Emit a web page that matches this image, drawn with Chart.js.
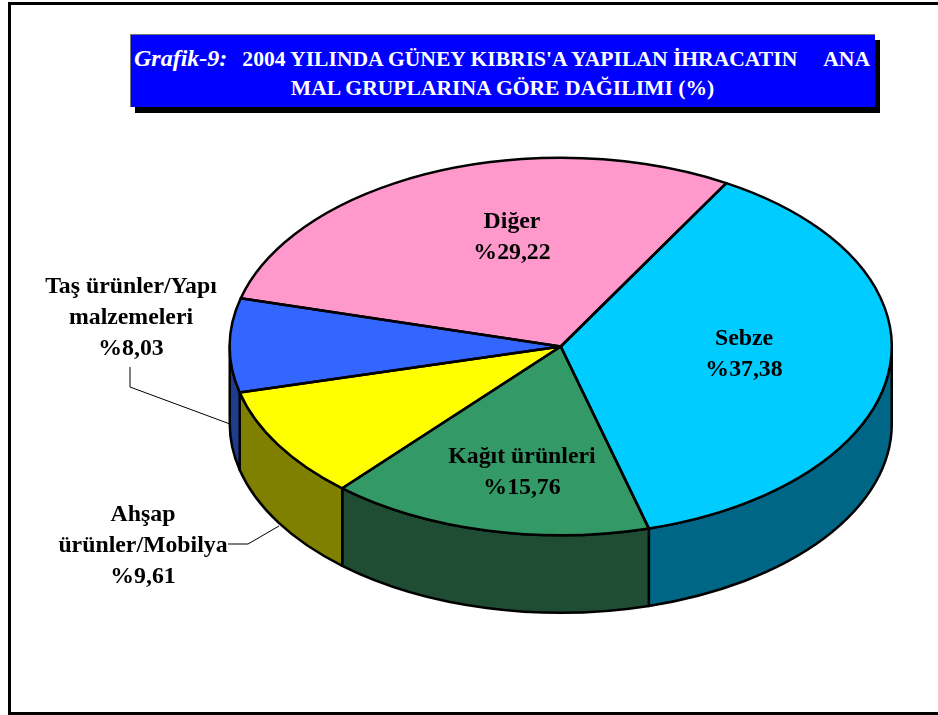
<!DOCTYPE html>
<html lang="tr"><head><meta charset="utf-8">
<script src="https://cdn.jsdelivr.net/npm/chart.js@4"></script>
<style>
html,body{margin:0;padding:0;background:#fff;overflow:hidden}
#wrap{position:relative;width:938px;height:715px;overflow:hidden}
#frame{position:absolute;left:8px;top:2px;width:1000px;height:707px;border:3px solid #000;box-sizing:content-box}
#shadow{position:absolute;left:135px;top:40px;width:745px;height:73px;background:#000}
#title{position:absolute;left:129.5px;top:34px;width:745px;height:73px;background:#0000ff;border-top:1px solid #777;border-left:1px solid #777;box-sizing:border-box;color:#fff;font:bold 21.6px "Liberation Serif",serif;line-height:29px;padding-top:9px;white-space:nowrap}
#title div{text-align:center}
#title div.l1{text-align:left;padding-left:3.5px}
#title i{font-size:24px}
#title span.a{margin-left:15px}
#title span.b{margin-left:26px}
canvas{position:absolute;left:0;top:0}
</style></head><body>
<div id="wrap">
<div id="frame"></div>
<canvas id="c" width="938" height="715"></canvas>
<div id="shadow"></div>
<div id="title"><div class="l1"><i>Grafik-9:</i><span class="a">2004 YILINDA GÜNEY KIBRIS'A YAPILAN İHRACATIN</span><span class="b">ANA</span></div><div>MAL GRUPLARINA GÖRE DAĞILIMI (%)</div></div>
</div>
<script>
const categories = ["Sebze", "Kağıt ürünleri", "Ahşap ürünler/Mobilya", "Taş ürünler/Yapı malzemeleri", "Diğer"];
const values = [37.38, 15.76, 9.61, 8.03, 29.22];
const valueLabels = ["%37,38", "%15,76", "%9,61", "%8,03", "%29,22"];
const labelLines = [["Sebze"], ["Kağıt ürünleri"], ["Ahşap", "ürünler/Mobilya"], ["Taş ürünler/Yapı", "malzemeleri"], ["Diğer"]];
const topColors = ["#00CCFF", "#339966", "#FFFF00", "#3366FF", "#FF99CC"];
const sideColors = ["#006685", "#1E4D33", "#808000", "#1F3C8F", "#804D66"];
const labelCenters = [[744, 338], [522, 456], [143, 514], [131, 286], [512, 221]];
const leaders = [null, null, [[228, 544], [248, 544], [279, 526]], [[130, 367], [130, 387], [230, 424]], null];
const tilt = 189 / 331.5, depth = 77.5, lineH = 31;

const pie3d = {
  id: "pie3d",
  beforeDatasetsDraw(chart) {
    const ctx = chart.ctx, arcs = chart.getDatasetMeta(0).data;
    const cx = arcs[0].x, cy = arcs[0].y, r = arcs[0].outerRadius, ry = r * tilt;
    ctx.save();
    const walls = [];
    arcs.forEach((a, i) => {
      [[a.startAngle, a.endAngle], [a.startAngle - 2 * Math.PI, a.endAngle - 2 * Math.PI]].forEach(([s, e]) => {
        const s2 = Math.max(s, 0), e2 = Math.min(e, Math.PI);
        if (e2 > s2) walls.push([s2, e2, i]);
      });
    });
    walls.forEach(([s, e, i]) => {
      ctx.beginPath();
      ctx.ellipse(cx, cy, r, ry, 0, s, e);
      ctx.ellipse(cx, cy + depth, r, ry, 0, e, s, true);
      ctx.closePath();
      ctx.fillStyle = sideColors[i];
      ctx.fill();
      ctx.lineWidth = 2.5; ctx.strokeStyle = "#000"; ctx.lineJoin = "round";
      ctx.stroke();
    });
    ctx.restore();
    ctx.save();
    ctx.translate(cx, cy); ctx.scale(1, tilt); ctx.translate(-cx, -cy);
  },
  afterDatasetsDraw(chart) {
    const ctx = chart.ctx, arcs = chart.getDatasetMeta(0).data;
    ctx.restore();
    const cx = arcs[0].x, cy = arcs[0].y, r = arcs[0].outerRadius, ry = r * tilt;
    ctx.save();
    ctx.lineWidth = 2.5; ctx.strokeStyle = "#000"; ctx.lineJoin = "round";
    arcs.forEach(a => {
      ctx.beginPath();
      ctx.moveTo(cx, cy);
      ctx.ellipse(cx, cy, r, ry, 0, a.startAngle, a.endAngle);
      ctx.closePath();
      ctx.stroke();
    });
    ctx.lineWidth = 1;
    leaders.forEach(pts => {
      if (!pts) return;
      ctx.beginPath();
      pts.forEach((p, k) => k ? ctx.lineTo(p[0], p[1]) : ctx.moveTo(p[0], p[1]));
      ctx.stroke();
    });
    ctx.fillStyle = "#000";
    ctx.font = 'bold 23.8px "Liberation Serif", serif';
    ctx.textAlign = "center"; ctx.textBaseline = "middle";
    labelLines.forEach((lines, i) => {
      const [x, y0] = labelCenters[i];
      lines.concat(valueLabels[i]).forEach((t, k) => ctx.fillText(t, x, y0 + 1 + k * lineH));
    });
    ctx.restore();
  }
};

new Chart(document.getElementById("c"), {
  type: "pie",
  data: { labels: categories, datasets: [{ data: values, backgroundColor: topColors, borderWidth: 0, hoverOffset: 0 }] },
  options: {
    responsive: false, animation: false, rotation: 30,
    layout: { padding: { left: 229.5, right: 46, top: 15.5, bottom: 37.5 } },
    plugins: { legend: { display: false }, tooltip: { enabled: false }, title: { display: false } }
  },
  plugins: [pie3d]
});
</script>
</body></html>
